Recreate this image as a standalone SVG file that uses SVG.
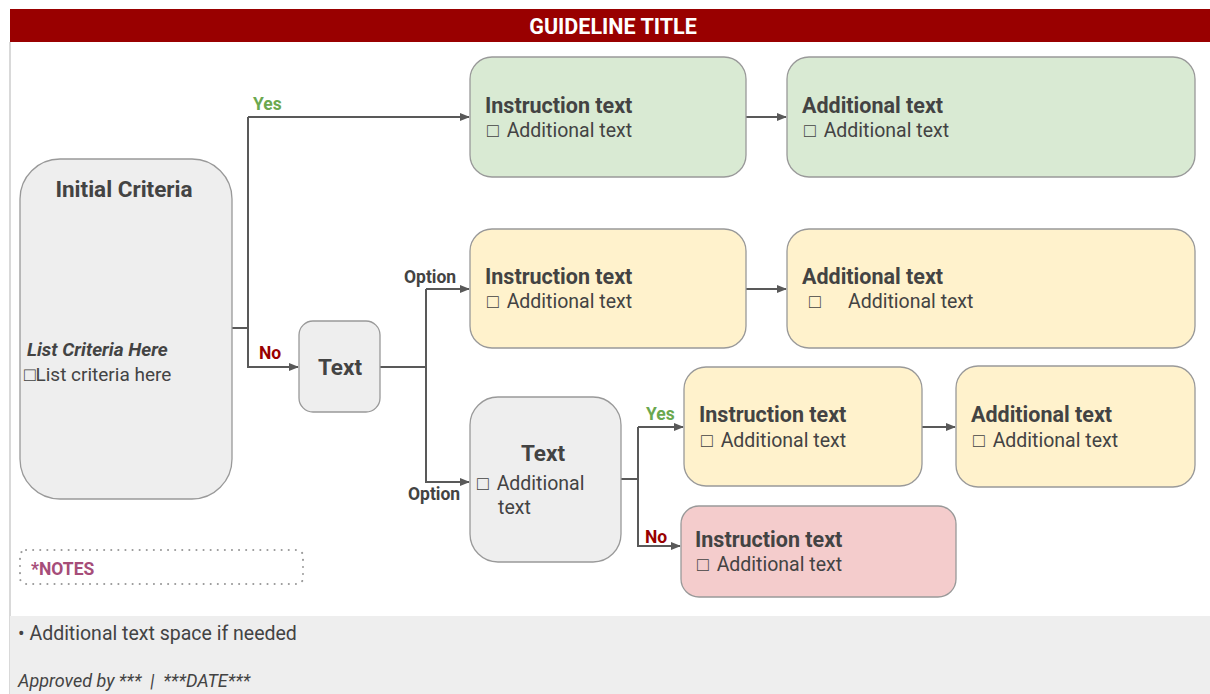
<svg xmlns="http://www.w3.org/2000/svg" width="1210" height="694" viewBox="0 0 1210 694">
<defs>
<marker id="ah" viewBox="0 0 10 10" refX="9" refY="5" markerWidth="10" markerHeight="10" markerUnits="userSpaceOnUse" orient="auto">
<path d="M0,1 L10,5 L0,9 Z" fill="#595959"/>
</marker>
<style>
.t{font-family:Roboto,"Liberation Sans",sans-serif;fill:#434343}
.h{font-weight:bold;font-size:21.5px}
.s{font-size:19.5px}
.c{fill:none;stroke:#595959;stroke-width:2}
.a{marker-end:url(#ah)}
.box{stroke:#999;stroke-width:1.3}
.lbl{font-family:Roboto,"Liberation Sans",sans-serif;font-weight:bold;font-size:17.5px}
</style>
</defs>
<rect x="0" y="0" width="1210" height="694" fill="#fff"/>
<line x1="10" y1="42" x2="10" y2="694" stroke="#cccccc" stroke-width="1.5"/>
<rect x="10" y="616" width="1200" height="78" fill="#eeeeee"/>
<g id="header">
<rect x="10" y="9" width="1200" height="33" fill="#990000"/>
<text x="613" y="34" text-anchor="middle" font-family="Roboto,'Liberation Sans',sans-serif" font-weight="bold" font-size="21.5" fill="#fff">GUIDELINE TITLE</text>
</g>
<g id="connectors">
<path class="c" d="M232 328 H248 V117"/>
<path class="c a" d="M248 117 H469"/>
<path class="c a" d="M248 328 V367 H298"/>
<path class="c" d="M380 367 H426 V289"/>
<path class="c a" d="M426 289 H469"/>
<path class="c a" d="M426 367 V482 H469"/>
<path class="c a" d="M746 117 H786"/>
<path class="c a" d="M746 289 H786"/>
<path class="c" d="M621 479 H638 V427"/>
<path class="c a" d="M638 427 H683"/>
<path class="c a" d="M638 479 V546 H680"/>
<path class="c a" d="M922 427 H955"/>
<text class="lbl" x="253" y="110" fill="#6aa84f">Yes</text>
<text class="lbl" x="259" y="359" fill="#990000">No</text>
<text class="lbl" x="404" y="283" fill="#434343">Option</text>
<text class="lbl" x="408" y="500" fill="#434343">Option</text>
<text class="lbl" x="646" y="420" fill="#6aa84f">Yes</text>
<text class="lbl" x="645" y="543" fill="#990000">No</text>
</g>
<g id="initial">
<rect class="box" x="20" y="159" width="212" height="340" rx="40" fill="#eeeeee"/>
<text class="t" x="124" y="197" text-anchor="middle" font-weight="bold" font-size="22.5">Initial Criteria</text>
<text class="t" x="27" y="356" font-size="19" font-weight="bold" font-style="italic">List Criteria Here</text>
<text class="t" x="24" y="381" font-size="19">□List criteria here</text>
</g>
<g id="green1">
<rect class="box" x="470" y="57" width="276" height="120" rx="22" fill="#d9ead3"/>
<text class="t h" x="485" y="113">Instruction text</text>
<text class="t s" x="487" y="137">□ <tspan dx="3">Additional text</tspan></text>
</g>
<g id="green2">
<rect class="box" x="787" y="57" width="408" height="120" rx="22" fill="#d9ead3"/>
<text class="t h" x="802" y="113">Additional text</text>
<text class="t s" x="804" y="137">□ <tspan dx="3">Additional text</tspan></text>
</g>
<g id="text1">
<rect class="box" x="299" y="321" width="81" height="91" rx="14" fill="#eeeeee"/>
<text class="t" x="340" y="375" text-anchor="middle" font-weight="bold" font-size="22.5">Text</text>
</g>
<g id="yellow1">
<rect class="box" x="470" y="229" width="276" height="119" rx="22" fill="#fff2cc"/>
<text class="t h" x="485" y="284">Instruction text</text>
<text class="t s" x="487" y="308">□ <tspan dx="3">Additional text</tspan></text>
</g>
<g id="yellow2">
<rect class="box" x="787" y="229" width="408" height="119" rx="22" fill="#fff2cc"/>
<text class="t h" x="802" y="284">Additional text</text>
<text class="t s" x="809" y="308">□</text>
<text class="t s" x="848" y="308">Additional text</text>
</g>
<g id="text2">
<rect class="box" x="470" y="397" width="151" height="165" rx="28" fill="#eeeeee"/>
<text class="t" x="543" y="461" text-anchor="middle" font-weight="bold" font-size="22.5">Text</text>
<text class="t s" x="477" y="490">□ <tspan dx="3">Additional</tspan></text>
<text class="t s" x="498" y="514">text</text>
</g>
<g id="yellow3">
<rect class="box" x="684" y="367" width="238" height="119" rx="22" fill="#fff2cc"/>
<text class="t h" x="699" y="422">Instruction text</text>
<text class="t s" x="701" y="447">□ <tspan dx="3">Additional text</tspan></text>
</g>
<g id="yellow4">
<rect class="box" x="956" y="366" width="239" height="121" rx="22" fill="#fff2cc"/>
<text class="t h" x="971" y="422">Additional text</text>
<text class="t s" x="973" y="447">□ <tspan dx="3">Additional text</tspan></text>
</g>
<g id="red">
<rect class="box" x="681" y="506" width="275" height="91" rx="18" fill="#f4cccc"/>
<text class="t h" x="695" y="547">Instruction text</text>
<text class="t s" x="697" y="571">□ <tspan dx="3">Additional text</tspan></text>
</g>
<g id="notes">
<rect x="20" y="550" width="283" height="34" rx="6" fill="none" stroke="#999" stroke-width="2" stroke-dasharray="0.1 7" stroke-linecap="round"/>
<text class="lbl" x="31" y="575" fill="#a64d79">*NOTES</text>
</g>
<g id="footer">
<text class="t" x="18" y="640" font-size="19.5">• Additional text space if needed</text>
<text class="t" x="18" y="687" font-size="18" font-style="italic" xml:space="preserve">Approved by ***  |  ***DATE***</text>
</g>
</svg>
